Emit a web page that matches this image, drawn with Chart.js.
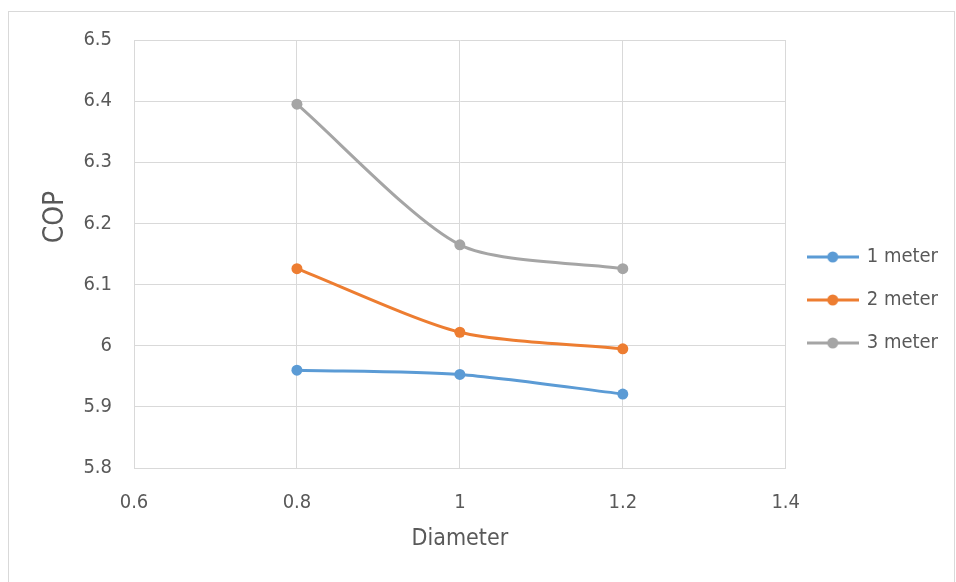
<!DOCTYPE html>
<html>
<head>
<meta charset="utf-8">
<script src="https://cdn.jsdelivr.net/npm/chart.js@4"></script>
<style>
  html, body { margin: 0; padding: 0; background: #fff; }
  #wrap { width: 956px; height: 582px; }
</style>
</head>
<body>
<div id="wrap"><canvas id="copChart"></canvas></div>
<script>
// values
const diameters = [0.8, 1.0, 1.2];
const cop1m = [5.960, 5.953, 5.921];
const cop2m = [6.126, 6.022, 5.995];
const cop3m = [6.395, 6.165, 6.126];
const seriesNames = ['1 meter', '2 meter', '3 meter'];
const seriesColors = ['#5B9BD5', '#ED7D31', '#A5A5A5'];

const FONT = "'DejaVu Sans Condensed', 'Liberation Sans Narrow', sans-serif";
const TEXT = '#595959';
const GRID = '#D9D9D9';

// legend marker: short line with a dot in the middle
function legendMarker(color) {
    const c = document.createElement('canvas');
    c.width = 52;
    c.height = 14;
    const g = c.getContext('2d');
    g.strokeStyle = color;
    g.lineWidth = 3;
    g.beginPath();
    g.moveTo(0, 7);
    g.lineTo(52, 7);
    g.stroke();
    g.fillStyle = color;
    g.beginPath();
    g.arc(26, 7, 5.5, 0, Math.PI * 2);
    g.fill();
    return c;
}

const toPoints = ys => ys.map((y, i) => ({ x: diameters[i], y }));
const seriesValues = [cop1m, cop2m, cop3m];

// frame round the whole chart + the y axis title (sits above the axis middle, like Excel)
const chrome = {
    id: 'chrome',
    afterDraw(chart) {
        const ctx = chart.ctx;
        ctx.save();
        ctx.strokeStyle = GRID;
        ctx.lineWidth = 1;
        ctx.strokeRect(8.5, 11.5, 946, 600);

        ctx.translate(56, 217);
        ctx.rotate(-Math.PI / 2);
        ctx.fillStyle = TEXT;
        ctx.font = '28px ' + FONT;
        ctx.textAlign = 'center';
        ctx.textBaseline = 'middle';
        ctx.fillText('COP', 0, 0);
        ctx.restore();
    }
};

const tickFmt = v => String(+(+v).toFixed(1));

new Chart(document.getElementById('copChart').getContext('2d'), {
    type: 'line',
    data: {
        datasets: seriesNames.map((name, i) => ({
            label: name,
            data: toPoints(seriesValues[i]),
            borderColor: seriesColors[i],
            backgroundColor: seriesColors[i],
            borderWidth: 3,
            pointStyle: 'circle',
            pointRadius: 5.5,
            pointHoverRadius: 5.5,
            pointBorderWidth: 0,
            tension: 0.25,
            clip: false
        }))
    },
    options: {
        responsive: true,
        maintainAspectRatio: false,
        animation: false,
        layout: { padding: { top: 40, left: 10, right: 8, bottom: 22 } },
        plugins: {
            tooltip: { enabled: false },
            legend: {
                position: 'right',
                labels: {
                    usePointStyle: true,
                    pointStyleWidth: 48,
                    padding: 23,
                    color: TEXT,
                    font: { family: FONT, size: 20 },
                    generateLabels(chart) {
                        return chart.data.datasets.map((ds, i) => ({
                            text: ds.label,
                            fillStyle: ds.borderColor,
                            strokeStyle: ds.borderColor,
                            fontColor: TEXT,
                            lineWidth: 0,
                            pointStyle: legendMarker(ds.borderColor),
                            hidden: false,
                            datasetIndex: i
                        }));
                    }
                }
            }
        },
        scales: {
            x: {
                type: 'linear',
                min: 0.6,
                max: 1.4,
                ticks: { stepSize: 0.2, padding: 23, color: TEXT, font: { family: FONT, size: 20 }, callback: tickFmt },
                grid: { color: GRID, drawTicks: false },
                border: { color: GRID },
                title: { display: true, text: 'Diameter', color: TEXT, font: { family: FONT, size: 23 }, padding: { top: 0, bottom: 7 } },
                afterFit(scale) { scale.height = 92; }
            },
            y: {
                min: 5.8,
                max: 6.5,
                ticks: { stepSize: 0.1, padding: 22, color: TEXT, font: { family: FONT, size: 20 }, callback: tickFmt },
                grid: { color: GRID, drawTicks: false },
                border: { color: GRID },
                title: { display: false },
                afterFit(scale) { scale.width = 124; }
            }
        }
    },
    plugins: [chrome]
});
</script>
</body>
</html>
